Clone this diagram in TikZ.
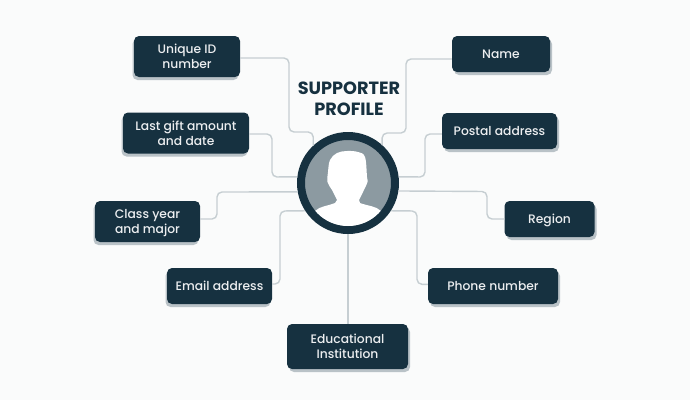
\documentclass[tikz,border=0pt]{standalone}
\usepackage{fontspec}
\setmainfont{Poppins Medium}[BoldFont={Poppins Bold}]
\usepackage{tikz}
\usetikzlibrary{arrows.meta, positioning, shadows}

\definecolor{navy}{HTML}{163140}
\definecolor{linkgray}{HTML}{C6CED2}
\definecolor{shadowgray}{HTML}{B9C2C7}
\definecolor{headgray}{HTML}{8C9AA1}
\definecolor{paper}{HTML}{FAFBFB}

\begin{document}
\begin{tikzpicture}[
    x=1pt, y=-1pt,
    block/.style={fill=navy, text=white!92!navy, rounded corners=5pt, align=center, inner sep=0pt,
        font=\fontsize{12.3}{14.8}\selectfont},
    leftblock/.style={block, drop shadow={shadow xshift=-1.5pt, shadow yshift=-3pt, fill=shadowgray, opacity=1}},
    rightblock/.style={block, drop shadow={shadow xshift=2pt, shadow yshift=-3pt, fill=shadowgray, opacity=1}},
    link/.style={draw=linkgray, line width=1.4pt, rounded corners=5pt},
    hubring/.style={draw=navy, fill=headgray, circle, line width=8pt, minimum size=94pt, inner sep=0pt}
]
\useasboundingbox (0,0) rectangle (690,400);
\fill[paper] (0,0) rectangle (690,400);

% Centre circle
\node[hubring] (hub) at (348,183) {};

% Left column
\node[leftblock, minimum width=106pt, minimum height=41pt] (unique) at (187,56.5) {Unique ID\\number};
\node[leftblock, minimum width=126pt, minimum height=41pt] (gift) at (186,133) {Last gift amount\\and date};
\node[leftblock, minimum width=105pt, minimum height=41pt, text depth=0pt] (classyear) at (147.5,221.5) {Class year\\and major};
\node[leftblock, minimum width=105pt, minimum height=36pt] (email) at (219.5,286) {Email address};

% Right column
\node[rightblock, minimum width=98pt, minimum height=36pt] (name) at (501,54) {Name};
\node[rightblock, minimum width=115pt, minimum height=36pt] (postal) at (499.5,131) {Postal address};
\node[rightblock, minimum width=90pt, minimum height=36pt, text depth=0pt] (region) at (549.5,219) {Region};
\node[rightblock, minimum width=130pt, minimum height=36pt] (phone) at (493,286) {Phone number};

% Bottom block
\node[rightblock, minimum width=121pt, minimum height=45pt] (school) at (347.5,346.5) {Educational\\Institution};

% Title
\node[font=\fontsize{17.7}{20.5}\selectfont\bfseries, text=navy, align=center, inner sep=0pt] (title) at (349,99) {SUPPORTER\\PROFILE};

% Connectors: left side
\draw[link] ([yshift=-1.5pt]unique.east) -| (289,132) -| (hub.133);
\draw[link] ([yshift=-1pt]gift.east) -| (272,177) -- (hub.173);
\draw[link] ([yshift=2.5pt]classyear.east) -| (217,192) -- (hub.190);
\draw[link] ([yshift=2pt]email.east) -| (280,211) -- (hub.213);

% Connectors: right side
\draw[link] ([yshift=-5pt]name.west) -| (406,133) -| (hub.48);
\draw[link] ([yshift=-3pt]postal.west) -| (425,177) -- (hub.7);
\draw[link] (region.west) -| (487,191.5) -- (hub.-9);
\draw[link] ([yshift=1.7pt]phone.west) -| (417,211) -- (hub.-33);

% Connector: bottom
\draw[link] (school.north -| hub.south) -- (hub.south);

% Silhouette
\begin{scope}
    \clip (hub.center) circle (43);
    \fill[white] plot[smooth, tension=0.6] coordinates {(337,200) (332,190) (327.5,182) (328,172) (330,160) (337,153) (347,151) (358,152) (365,157) (367,177) (367.5,182) (363,192) (359,200)}
        -- (360,203) .. controls (368,206) and (376,206) .. (381,211) -- (385,240) -- (310,240) -- (315,211)
        .. controls (320,206) and (328,206) .. (335,203) -- cycle;
\end{scope}

\end{tikzpicture}
\end{document}
